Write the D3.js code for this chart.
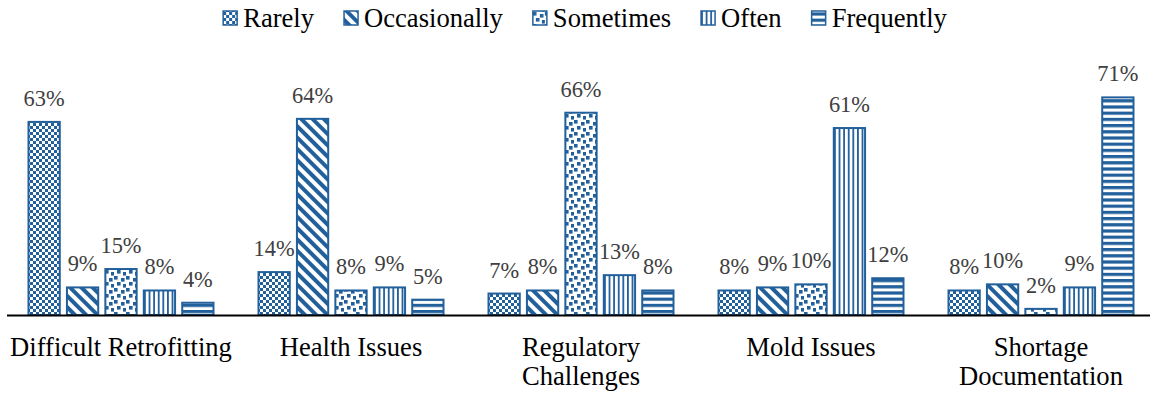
<!DOCTYPE html>
<html>
<head>
<meta charset="utf-8">
<script src="https://cdn.jsdelivr.net/npm/d3@7"></script>
<style>
  html, body { margin: 0; padding: 0; background: #fff; font-family: 'Liberation Serif', Tinos, serif; }
</style>
</head>
<body>
<svg id="chart" width="1150" height="393"></svg>
<script>
// Survey responses by issue and frequency (percent)
const categories = ["Difficult Retrofitting", "Health Issues", "Regulatory Challenges", "Mold Issues", "Shortage Documentation"];
const seriesNames = ["Rarely", "Occasionally", "Sometimes", "Often", "Frequently"];
const rarely       = [63, 14, 7, 8, 8];
const occasionally = [9, 64, 8, 9, 10];
const sometimes    = [15, 8, 66, 10, 2];
const often        = [8, 9, 13, 61, 9];
const frequently   = [4, 5, 8, 12, 71];
const seriesValues = [rarely, occasionally, sometimes, often, frequently];

const BLUE = "#22609C";
const FONT = "'Liberation Serif', Tinos, serif";
const W = 1150, H = 393;
const svg = d3.select("#chart").style("font-family", FONT);

// ---- fill patterns, one per series ----
const defs = svg.append("defs");
const patIds = ["pat-rarely", "pat-occasionally", "pat-sometimes", "pat-often", "pat-frequently"];

// small checkerboard
{
  const p = defs.append("pattern").attr("id", patIds[0]).attr("patternUnits", "userSpaceOnUse")
    .attr("width", 6).attr("height", 6);
  p.append("rect").attr("width", 6).attr("height", 6).attr("fill", "#fff");
  p.append("rect").attr("x", 0).attr("y", 0).attr("width", 3).attr("height", 3).attr("fill", BLUE);
  p.append("rect").attr("x", 3).attr("y", 3).attr("width", 3).attr("height", 3).attr("fill", BLUE);
}
// wide downward diagonal
{
  const p = defs.append("pattern").attr("id", patIds[1]).attr("patternUnits", "userSpaceOnUse")
    .attr("width", 8).attr("height", 8).attr("patternTransform", "rotate(-45)");
  p.append("rect").attr("width", 8).attr("height", 8).attr("fill", "#fff");
  p.append("rect").attr("x", 0).attr("y", 0).attr("width", 4).attr("height", 8).attr("fill", BLUE);
}
// large confetti
{
  const p = defs.append("pattern").attr("id", patIds[2]).attr("patternUnits", "userSpaceOnUse")
    .attr("width", 12).attr("height", 12);
  p.append("rect").attr("width", 12).attr("height", 12).attr("fill", "#fff");
  [[0, 0], [7, 2], [3, 6], [9, 8]].forEach(([x, y]) =>
    p.append("rect").attr("x", x).attr("y", y).attr("width", 3.6).attr("height", 3.6).attr("fill", BLUE));
}
// narrow vertical lines
{
  const p = defs.append("pattern").attr("id", patIds[3]).attr("patternUnits", "userSpaceOnUse")
    .attr("width", 4.6).attr("height", 4);
  p.append("rect").attr("width", 4.6).attr("height", 4).attr("fill", "#fff");
  p.append("rect").attr("x", 0).attr("y", 0).attr("width", 1.8).attr("height", 4).attr("fill", BLUE);
}
// wide horizontal lines
{
  const p = defs.append("pattern").attr("id", patIds[4]).attr("patternUnits", "userSpaceOnUse")
    .attr("width", 4).attr("height", 6.2);
  p.append("rect").attr("width", 4).attr("height", 6.2).attr("fill", "#fff");
  p.append("rect").attr("x", 0).attr("y", 0).attr("width", 4).attr("height", 3.2).attr("fill", BLUE);
}

// ---- scales ----
const x0 = d3.scaleBand().domain(categories).range([6, 1156]).padding(0);
const x1 = d3.scaleBand().domain(seriesNames).range([22, 208]).paddingInner(0.16).paddingOuter(0);
const y = d3.scaleLinear().domain([0, 100]).range([315, 8.5]);

// ---- bars ----
const groups = svg.append("g").selectAll("g")
  .data(categories)
  .join("g")
  .attr("transform", d => `translate(${x0(d)},0)`);

groups.each(function (cat, ci) {
  const g = d3.select(this);
  const rows = seriesNames.map((s, si) => ({ s, si, v: seriesValues[si][ci] }));
  g.selectAll("rect")
    .data(rows)
    .join("rect")
    .attr("x", d => x1(d.s) + 0.5)
    .attr("y", d => y(d.v))
    .attr("width", x1.bandwidth() - 1)
    .attr("height", d => y(0) - y(d.v))
    .attr("fill", d => `url(#${patIds[d.si]})`)
    .attr("stroke", BLUE)
    .attr("stroke-width", 2);
  g.selectAll("text.val")
    .data(rows)
    .join("text")
    .attr("class", "val")
    .attr("x", d => x1(d.s) + x1.bandwidth() / 2)
    .attr("y", d => y(d.v) - 16)
    .attr("text-anchor", "middle")
    .style("font-family", FONT)
    .attr("font-size", 22.4)
    .attr("fill", "#404040")
    .text(d => d.v + "%");
});

// ---- baseline axis ----
svg.append("line")
  .attr("x1", 7).attr("x2", W)
  .attr("y1", y(0) + 0.5).attr("y2", y(0) + 0.5)
  .attr("stroke", "#000").attr("stroke-width", 2);

// ---- category labels, wrapped to the band width ----
const catLabels = svg.append("g").selectAll("text")
  .data(categories)
  .join("text")
  .attr("text-anchor", "middle")
  .style("font-family", FONT)
  .attr("font-size", 26.6)
  .attr("fill", "#000")
  .attr("x", d => x0(d) + x0.bandwidth() / 2)
  .attr("y", 356);

catLabels.each(function (d) {
  const t = d3.select(this);
  const cx = +t.attr("x");
  const words = d.split(" ");
  const lines = [];
  let line = [];
  const probe = t.append("tspan");
  words.forEach(w => {
    const trial = line.concat(w).join(" ");
    probe.text(trial);
    if (probe.node().getComputedTextLength() > x0.bandwidth() - 2 && line.length) {
      lines.push(line.join(" "));
      line = [w];
    } else {
      line.push(w);
    }
  });
  lines.push(line.join(" "));
  probe.remove();
  lines.forEach((l, i) => {
    t.append("tspan").attr("x", cx).attr("dy", i === 0 ? 0 : 29).text(l);
  });
});

// ---- legend ----
const legend = svg.append("g");
const items = legend.selectAll("g")
  .data(seriesNames)
  .join("g");
items.append("rect")
  .attr("x", 0).attr("y", 11)
  .attr("width", 14).attr("height", 14)
  .attr("fill", (d, i) => `url(#${patIds[i]})`)
  .attr("stroke", BLUE).attr("stroke-width", 1.5);
items.append("text")
  .attr("x", 20).attr("y", 27)
  .style("font-family", FONT)
  .attr("font-size", 26.6)
  .attr("fill", "#000")
  .text(d => d);

let cursor = 0;
const widths = [];
items.each(function () {
  const w = 20 + d3.select(this).select("text").node().getComputedTextLength();
  widths.push(w);
});
const gap = 30;
const total = d3.sum(widths) + gap * (widths.length - 1);
const start = 585 - total / 2;
items.attr("transform", (d, i) => {
  const tx = start + cursor;
  cursor += widths[i] + gap;
  return `translate(${tx},0)`;
});
</script>
</body>
</html>
